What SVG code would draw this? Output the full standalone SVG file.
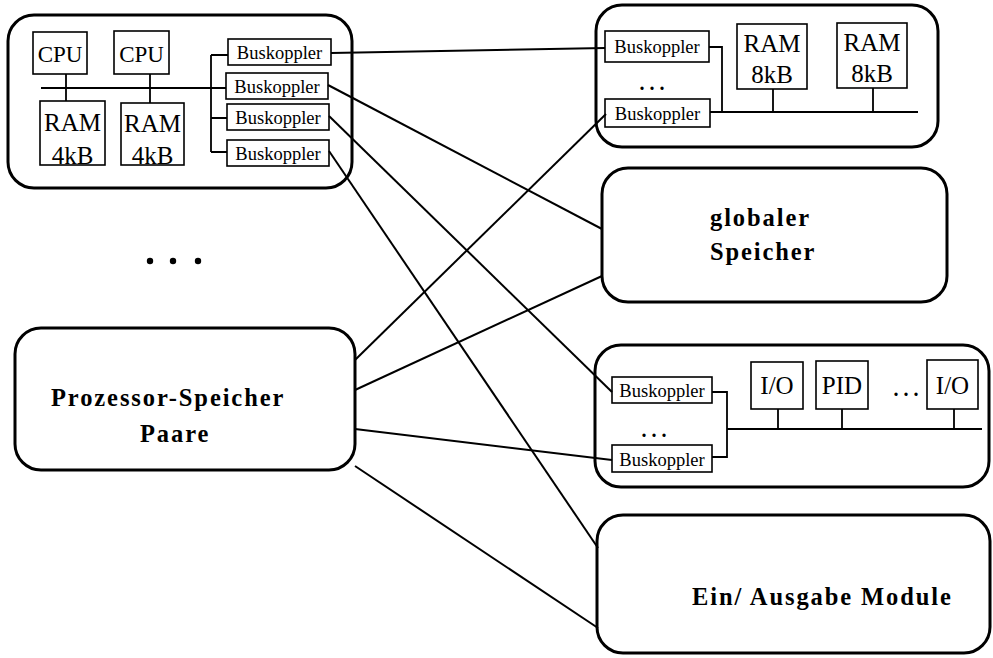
<svg xmlns="http://www.w3.org/2000/svg" width="993" height="658" viewBox="0 0 993 658">
  <style>
    .outer { fill: none; stroke: #000; stroke-width: 3; }
    .box { fill: #fff; stroke: #000; stroke-width: 1.6; }
    .bus { fill: none; stroke: #000; stroke-width: 1.8; }
    .link { fill: none; stroke: #000; stroke-width: 2; }
    .t { font-family: "Liberation Serif", "Times New Roman", serif; fill: #000; text-anchor: middle; }
    .bk { font-size: 18.5px; }
    .big { font-size: 25px; }
    .dots { font-size: 20px; font-weight: bold; }
    .lbl { font-family: "Liberation Serif", "Times New Roman", serif; font-weight: bold; font-size: 24.5px; letter-spacing: 1.9px; fill: #000; }
  </style>
  <rect width="993" height="658" fill="#fff"/>

  <!-- processor-memory pair (detail) -->
  <g id="pair-detail">
    <rect class="outer" x="8" y="15" width="344" height="173" rx="26"/>
    <path class="bus" d="M41 88 H226 M66 74 V101 M150 74 V103 M211 55 V152 M211 55 H228 M211 118 H227 M211 152 H227"/>
    <rect class="box" x="33" y="32" width="54" height="42"/>
    <text class="t" x="60" y="62" font-size="23">CPU</text>
    <rect class="box" x="114" y="31" width="55" height="43"/>
    <text class="t" x="141.5" y="62" font-size="23">CPU</text>
    <rect class="box" x="40" y="101" width="65" height="64"/>
    <text class="t big" x="72.5" y="131">RAM</text>
    <text class="t big" x="72.5" y="164">4kB</text>
    <rect class="box" x="121" y="103" width="63" height="62"/>
    <text class="t big" x="152.5" y="132">RAM</text>
    <text class="t big" x="152.5" y="164">4kB</text>
    <rect class="box" x="228" y="39" width="103" height="26"/>
    <text class="t bk" x="279.5" y="58.5">Buskoppler</text>
    <rect class="box" x="226" y="73" width="102" height="26"/>
    <text class="t bk" x="277" y="92.5">Buskoppler</text>
    <rect class="box" x="227" y="104" width="102" height="26"/>
    <text class="t bk" x="278" y="123.5">Buskoppler</text>
    <rect class="box" x="227" y="140" width="102" height="26"/>
    <text class="t bk" x="278" y="159.5">Buskoppler</text>
  </g>

  <!-- more pairs -->
  <g id="ellipsis">
    <circle cx="150" cy="261" r="3.2"/>
    <circle cx="173" cy="261" r="3.2"/>
    <circle cx="198" cy="261" r="3.2"/>
  </g>

  <!-- processor-memory pairs -->
  <g id="pairs">
    <rect class="outer" x="15" y="328" width="340" height="142" rx="26"/>
    <text class="lbl" x="51" y="406">Prozessor-Speicher</text>
    <text class="lbl" x="140" y="442">Paare</text>
  </g>

  <!-- global memory (detail) -->
  <g id="memory-detail">
    <rect class="outer" x="596" y="5" width="342" height="142" rx="26"/>
    <path class="bus" d="M709 47 H722 V112 M710 112 H918 M773 89 V112 M873 88 V112"/>
    <rect class="box" x="605" y="31" width="104" height="31"/>
    <text class="t bk" x="657" y="53">Buskoppler</text>
    <text class="t dots" x="652" y="90">. . .</text>
    <rect class="box" x="605" y="99" width="105" height="28"/>
    <text class="t bk" x="657.5" y="119.5">Buskoppler</text>
    <rect class="box" x="737" y="24" width="70" height="65"/>
    <text class="t big" x="772" y="52">RAM</text>
    <text class="t big" x="772" y="83">8kB</text>
    <rect class="box" x="837" y="23" width="70" height="65"/>
    <text class="t big" x="872" y="51">RAM</text>
    <text class="t big" x="872" y="82">8kB</text>
  </g>

  <!-- global memory -->
  <g id="memory">
    <rect class="outer" x="602" y="168" width="345" height="134" rx="26"/>
    <text class="lbl" x="710" y="226">globaler</text>
    <text class="lbl" x="710" y="260">Speicher</text>
  </g>

  <!-- I/O modules (detail) -->
  <g id="io-detail">
    <rect class="outer" x="595" y="345" width="394" height="142" rx="26"/>
    <path class="bus" d="M712 392 H727 V457 H712 M727 429 H982 M778 409 V429 M842 409 V429 M954 409 V429"/>
    <rect class="box" x="612" y="377" width="100" height="26"/>
    <text class="t bk" x="662" y="396.5">Buskoppler</text>
    <text class="t dots" x="654" y="437">. . .</text>
    <rect class="box" x="612" y="445" width="100" height="27"/>
    <text class="t bk" x="662" y="465.5">Buskoppler</text>
    <rect class="box" x="751" y="362" width="52" height="47"/>
    <text class="t big" x="777" y="394">I/O</text>
    <rect class="box" x="816" y="361" width="52" height="48"/>
    <text class="t big" x="842" y="394">PID</text>
    <text class="t dots" x="906" y="396">. . .</text>
    <rect class="box" x="927" y="360" width="51" height="49"/>
    <text class="t big" x="952.5" y="394">I/O</text>
  </g>

  <!-- I/O modules -->
  <g id="io">
    <rect class="outer" x="597" y="515" width="393" height="138" rx="26"/>
    <text class="lbl" x="692" y="605">Ein/ Ausgabe Module</text>
  </g>

  <!-- connections -->
  <g id="connectors">
    <line class="link" x1="331" y1="53" x2="605" y2="48"/>
    <line class="link" x1="328" y1="85" x2="602" y2="229"/>
    <line class="link" x1="329" y1="116" x2="612" y2="392"/>
    <line class="link" x1="329" y1="151" x2="598" y2="548"/>
    <line class="link" x1="355" y1="360" x2="606" y2="114"/>
    <line class="link" x1="355" y1="390" x2="602" y2="276"/>
    <line class="link" x1="355" y1="429" x2="612" y2="460"/>
    <line class="link" x1="355" y1="466" x2="598" y2="628"/>
  </g>
</svg>
